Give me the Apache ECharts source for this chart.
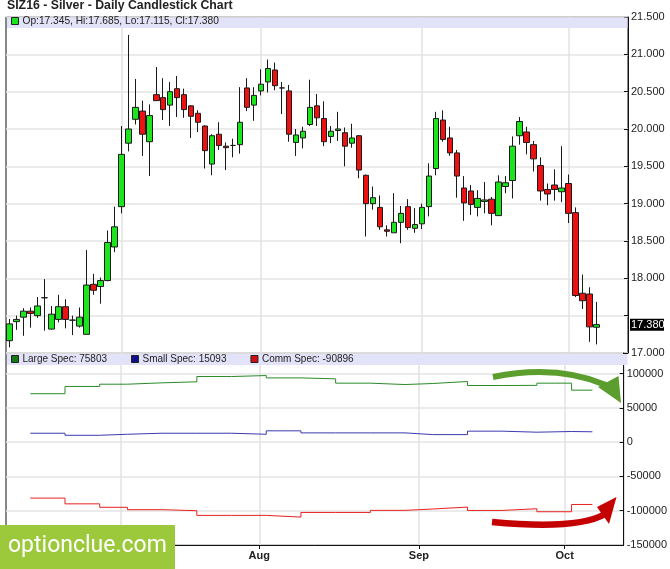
<!DOCTYPE html>
<html><head><meta charset="utf-8">
<script src="https://cdn.jsdelivr.net/npm/echarts@6/dist/echarts.min.js"></script>
<style>html,body{margin:0;padding:0;background:#fff}#c{width:670px;height:569px}</style>
</head><body><div id="c"></div>
<script>
// ---- categories (trading days) ----
const junDays = ['06-09','06-10','06-13','06-14','06-15','06-16','06-17','06-20','06-21','06-22','06-23','06-24','06-27','06-28','06-29','06-30'];
const julDays = ['07-01','07-05','07-06','07-07','07-08','07-11','07-12','07-13','07-14','07-15','07-18','07-19','07-20','07-21','07-22','07-25','07-26','07-27','07-28','07-29'];
const augDays = ['08-01','08-02','08-03','08-04','08-05','08-08','08-09','08-10','08-11','08-12','08-15','08-16','08-17','08-18','08-19','08-22','08-23','08-24','08-25','08-26','08-29','08-30','08-31'];
const sepDays = ['09-01','09-02','09-06','09-07','09-08','09-09','09-12','09-13','09-14','09-15','09-16','09-19','09-20','09-21','09-22','09-23','09-26','09-27','09-28','09-29','09-30'];
const octDays = ['10-03','10-04','10-05','10-06','10-07','10-10','10-11','10-12','10-13'];
const dates = [].concat(junDays, julDays, augDays, sepDays, octDays).map(d => '2016-' + d);

const monthStarts = ['2016-07-01','2016-08-01','2016-09-01','2016-10-03'];
const monthLabels = ['Jul','Aug','Sep','Oct'];

// ---- SIZ16 daily OHLC ----
const opens  = [17.165,17.42,17.48,17.56,17.50,17.74,17.32,17.45,17.62,17.44,17.36,17.25,17.92,17.89,17.97,18.42,18.96,
  19.81,20.13,20.24,19.83,20.46,20.42,20.32,20.54,20.46,20.31,20.21,20.04,19.53,19.93,19.77,19.78,19.79,20.55,20.32,
  20.51,20.63,20.79,20.55,20.51,19.82,19.88,20.06,20.31,20.14,19.90,19.98,19.95,19.81,19.91,19.38,19.00,18.95,18.65,18.61,18.75,18.96,18.67,
  18.73,18.96,19.47,20.12,19.88,19.68,19.21,19.17,18.95,19.03,19.06,18.84,19.23,19.31,19.91,19.96,19.79,19.51,19.19,19.25,19.16,
  19.27,18.88,17.80,17.79,17.345];
const highs  = [17.455,17.50,17.60,17.61,17.75,17.99,17.63,17.78,17.72,17.50,17.61,18.38,18.06,18.01,18.64,18.96,20.04,
  21.26,20.67,20.38,20.33,20.83,20.68,20.63,20.71,20.54,20.32,20.25,20.05,19.93,20.09,19.82,19.87,20.56,20.68,20.56,
  20.80,20.93,20.89,20.63,20.59,20.00,20.03,20.66,20.47,20.37,20.04,20.23,20.02,20.07,19.92,19.39,19.23,19.11,18.71,19.14,18.97,19.06,18.94,
  19.00,19.54,20.23,20.25,20.03,19.72,19.37,19.25,19.18,19.29,19.09,19.38,19.37,19.90,20.16,20.03,19.84,19.62,19.27,19.46,19.77,
  19.39,18.95,18.05,17.88,17.685];
const lows   = [17.076,17.31,17.23,17.34,17.47,17.30,17.31,17.41,17.33,17.24,17.34,17.25,17.78,17.66,17.96,18.35,18.87,
  19.70,20.06,19.64,19.37,20.38,20.12,20.04,20.16,20.15,19.88,19.96,19.47,19.38,19.72,19.45,19.62,19.67,20.24,20.11,
  20.45,20.49,20.52,20.20,19.83,19.64,19.74,20.04,20.04,19.77,19.81,19.84,19.50,19.75,19.34,18.56,18.92,18.65,18.56,18.61,18.47,18.65,18.61,
  18.66,18.83,19.38,19.83,19.64,19.08,18.77,18.85,18.83,18.87,18.71,18.84,19.14,19.07,19.79,19.66,19.43,19.04,18.98,19.04,19.02,
  18.74,17.75,17.59,17.15,17.115];
const closes = [17.39,17.45,17.56,17.53,17.63,17.74,17.52,17.62,17.45,17.44,17.48,17.91,17.84,17.97,18.48,18.69,19.66,
  20.00,20.29,19.93,20.18,20.38,20.26,20.50,20.42,20.26,20.17,20.09,19.71,19.91,19.78,19.75,19.78,20.09,20.29,20.45,
  20.60,20.81,20.58,20.55,19.93,19.92,19.97,20.29,20.15,19.83,19.97,20.00,19.77,19.88,19.45,19.00,19.08,18.69,18.63,18.75,18.87,18.68,18.72,
  18.95,19.37,20.14,19.86,19.68,19.37,19.01,18.99,19.07,19.05,18.87,19.29,19.28,19.77,20.10,19.82,19.60,19.17,19.13,19.19,19.21,
  18.87,17.77,17.70,17.35,17.38];

// ---- COT weekly positions ----
const cotDates  = ['2016-06-14','2016-06-21','2016-06-28','2016-07-05','2016-07-12','2016-07-19','2016-07-26','2016-08-02','2016-08-09',
  '2016-08-16','2016-08-23','2016-08-30','2016-09-06','2016-09-13','2016-09-20','2016-09-27','2016-10-04','2016-10-07'];
const largeSpec = [70600,81200,84500,86500,88000,95700,97100,93700,92300,86000,84000,85500,88400,82600,82800,86000,75803,75803];
const smallSpec = [13000,10000,11500,13000,13000,13000,11500,16500,13500,13500,13500,11000,11000,16000,14500,15500,15093,15093];
const commSpec  = [-81600,-90000,-95000,-98500,-100000,-106800,-106800,-109300,-102500,-102500,-99500,-97500,-94700,-99600,-97100,-101500,-90896,-90896];

const priceMin = 17, priceMax = 21.5, priceStep = 0.5;
const cotMin = -150000, cotMax = 130000, cotStep = 50000;

const FONT = 'Liberation Sans';
const candleData = opens.map((o, i) => [o, closes[i], lows[i], highs[i]]);
const pair = arr => arr.map((v, i) => [cotDates[i], v]);
const last = closes.length - 1;
const isMonthStart = (idx, val) => monthStarts.indexOf(val) >= 0;
const vGrid = {
  silent: true, symbol: 'none', z: 1, animation: false,
  label: {show: false},
  lineStyle: {color: '#e2e2e2', type: 'solid', width: 1.5},
  data: monthStarts.map(d => ({xAxis: d}))
};

const chart = echarts.init(document.getElementById('c'), null, {renderer: 'canvas'});
const option = {
  animation: false,
  backgroundColor: '#fff',
  textStyle: {fontFamily: FONT},
  title: {text: 'SIZ16 - Silver - Daily Candlestick Chart', left: 7, top: 0, padding: 0,
    textStyle: {fontFamily: FONT, fontSize: 12.3, fontWeight: 'bold', color: '#222'}},
  legend: [
    {data: ['SIZ16'], left: 11, top: 16, padding: 0, itemWidth: 7, itemHeight: 7, selectedMode: false, icon: 'rect', z: 6,
     itemStyle: {borderColor: '#222', borderWidth: 1},
     formatter: () => 'Op:' + opens[last].toFixed(3) + ', Hi:' + highs[last].toFixed(3) + ', Lo:' + lows[last].toFixed(3) + ', Cl:' + closes[last].toFixed(3),
     textStyle: {fontFamily: FONT, fontSize: 10.2, color: '#222', padding: [0, 0, 0, -1]}},
    {data: ['Large Spec', 'Small Spec', 'Comm Spec'], left: 11, top: 354, padding: 0, itemWidth: 7, itemHeight: 7, itemGap: 24,
     selectedMode: false, icon: 'rect', z: 6,
     itemStyle: {borderColor: '#222', borderWidth: 1},
     formatter: name => {
       const m = {'Large Spec': largeSpec, 'Small Spec': smallSpec, 'Comm Spec': commSpec}[name];
       return name + ': ' + m[m.length - 1];
     },
     textStyle: {fontFamily: FONT, fontSize: 10, color: '#222', padding: [0, 0, 0, -1]}}
  ],
  grid: [
    {left: 6, right: 42, top: 17, height: 336, show: true, borderColor: '#111', borderWidth: 1, backgroundColor: 'transparent'},
    {left: 6, right: 42, top: 353, height: 192, show: true, borderColor: '#111', borderWidth: 1, backgroundColor: 'transparent'}
  ],
  xAxis: [
    {type: 'category', gridIndex: 0, data: dates, boundaryGap: true,
     axisLine: {show: false, onZero: false}, axisTick: {show: false}, axisLabel: {show: false}, splitLine: {show: false}},
    {type: 'category', gridIndex: 1, data: dates, boundaryGap: true,
     axisLine: {show: true, onZero: false, lineStyle: {color: '#111', width: 1}},
     axisTick: {show: true, interval: isMonthStart, alignWithLabel: true, length: 4, lineStyle: {color: '#111'}},
     axisLabel: {interval: isMonthStart, formatter: v => monthLabels[monthStarts.indexOf(v)] || '',
       fontFamily: FONT, fontSize: 11, fontWeight: 'bold', color: '#222', margin: 5},
     splitLine: {show: false}}
  ],
  yAxis: [
    {type: 'value', gridIndex: 0, position: 'right', min: priceMin, max: priceMax, interval: priceStep, scale: true,
     axisLine: {show: true, lineStyle: {color: '#111'}},
     axisTick: {show: true, inside: true, length: 4, lineStyle: {color: '#111'}},
     axisLabel: {formatter: v => (Math.abs(v - 17.5) < 1e-9 ? '' : v.toFixed(3)), fontFamily: FONT, fontSize: 11, color: '#222', margin: 3},
     splitLine: {show: true, lineStyle: {color: '#e4e4e4', width: 1.5}}},
    {type: 'value', gridIndex: 1, position: 'right', min: cotMin, max: cotMax, interval: cotStep,
     axisLine: {show: true, lineStyle: {color: '#111'}},
     axisTick: {show: true, inside: true, length: 4, lineStyle: {color: '#111'}},
     axisLabel: {showMaxLabel: false, formatter: v => String(v), fontFamily: FONT, fontSize: 11, color: '#222', margin: 3},
     splitLine: {show: true, lineStyle: {color: '#e4e4e4', width: 1.5}}}
  ],
  series: [
    {name: 'SIZ16', type: 'candlestick', xAxisIndex: 0, yAxisIndex: 0, data: candleData, barWidth: 6,
     itemStyle: {color: '#1de51d', color0: '#ee1111', borderColor: '#1a1a1a', borderColor0: '#1a1a1a', borderColorDoji: '#1a1a1a', borderWidth: 1},
     markLine: vGrid},
    {name: 'Large Spec', type: 'line', xAxisIndex: 1, yAxisIndex: 1, step: 'end', symbol: 'none', data: pair(largeSpec),
     color: '#157a15', lineStyle: {color: '#2a8a2a', width: 1}, markLine: vGrid},
    {name: 'Small Spec', type: 'line', xAxisIndex: 1, yAxisIndex: 1, step: 'end', symbol: 'none', data: pair(smallSpec),
     color: '#10108a', lineStyle: {color: '#3a3ab0', width: 1}},
    {name: 'Comm Spec', type: 'line', xAxisIndex: 1, yAxisIndex: 1, step: 'end', symbol: 'none', data: pair(commSpec),
     color: '#d01010', lineStyle: {color: '#e82020', width: 1}}
  ],
  graphic: {elements: [
    {id: 'bandTop', type: 'rect', z: 3, silent: true, shape: {x: 7, y: 17.5, width: 620.5, height: 10.5}, style: {fill: '#e2e2f8'}},
    {id: 'bandBot', type: 'rect', z: 3, silent: true, shape: {x: 7, y: 354, width: 620.5, height: 11}, style: {fill: '#e2e2f8'}},
    {id: 'arrowG', type: 'bezierCurve', z: 20, silent: true,
     shape: {x1: 493, y1: 377, cpx1: 556, cpy1: 364, x2: 606, y2: 385},
     style: {stroke: '#5c9e2e', lineWidth: 6, fill: null}},
    {id: 'arrowGH', type: 'polygon', z: 20, silent: true,
     shape: {points: [[598, 387], [618.5, 376], [621, 403]]}, style: {fill: '#5c9e2e'}},
    {id: 'arrowR', type: 'bezierCurve', z: 20, silent: true,
     shape: {x1: 492, y1: 522, cpx1: 578, cpy1: 530, x2: 605, y2: 514},
     style: {stroke: '#c40000', lineWidth: 6.5, fill: null}},
    {id: 'arrowRH', type: 'polygon', z: 20, silent: true,
     shape: {points: [[597, 507], [616.5, 497], [609, 524]]}, style: {fill: '#c40000'}},
    {id: 'wmBox', type: 'rect', z: 50, silent: true, shape: {x: 0, y: 525, width: 175, height: 44}, style: {fill: '#9cc93b'}},
    {id: 'wmText', type: 'text', z: 51, silent: true, x: 8, y: 546,
     style: {text: 'optionclue.com', fill: '#fff', font: '23px Roboto', textVerticalAlign: 'middle'}}
  ]}
};
chart.setOption(option);

// current price tag on the price axis
const py = chart.convertToPixel({yAxisIndex: 0}, closes[last]);
chart.setOption({graphic: {elements: [
  {id: 'pxBox', type: 'rect', z: 30, silent: true, shape: {x: 630, y: py - 6, width: 34, height: 12}, style: {fill: '#000'}},
  {id: 'pxText', type: 'text', z: 31, silent: true, x: 631, y: py,
   style: {text: closes[last].toFixed(3), fill: '#fff', font: '11px "Liberation Sans"', textVerticalAlign: 'middle'}}
]}});
</script></body></html>
